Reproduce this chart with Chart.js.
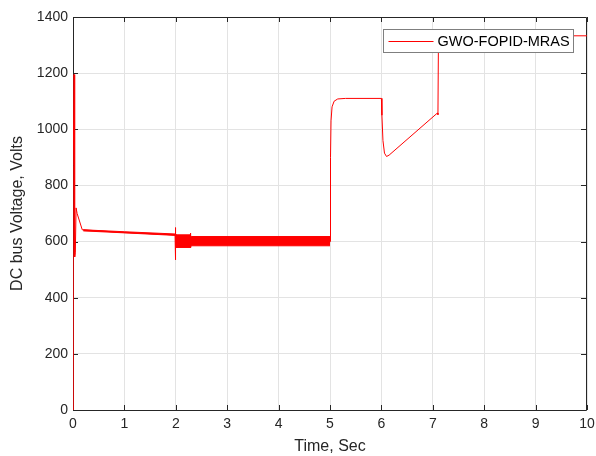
<!DOCTYPE html>
<html>
<head>
<meta charset="utf-8">
<script src="https://cdn.jsdelivr.net/npm/chart.js@4/dist/chart.umd.min.js"></script>
<style>
  html, body { margin: 0; padding: 0; background: #fff; }
  #wrap { width: 596px; height: 456px; }
</style>
</head>
<body>
<div id="wrap"><canvas id="dcChart" width="596" height="456"></canvas></div>
<script>
// main trace
var timeSec = [0, 0.005, 0.02, 0.03, 0.035, 0.045, 0.06, 0.08, 0.18, 0.5, 1.0, 1.5, 1.97, 1.985, 1.99, 1.995, 2.0,
  2.28, 2.285, 2.29, 2.3, 5.0, 5.01, 5.02, 5.04, 5.08, 5.15, 5.3, 6.0, 6.01, 6.03, 6.06, 6.1, 6.15,
  7.09, 7.1, 7.11, 7.3, 10];
var voltage = [0, 870, 1195, 1100, 545, 560, 720, 700, 642, 638, 632, 628, 624, 625, 650, 535, 600,
  600, 630, 578, 600, 600, 900, 1030, 1080, 1100, 1108, 1110, 1110, 1050, 960, 915, 903, 908,
  1058, 1052, 1330, 1333, 1333];

// envelope of the ripple (thick part of the trace)
var bandTime = [0.2, 1.0, 1.995, 2.0, 2.28, 2.3, 5.0];
var bandUpper = [642, 635, 627, 624, 624, 618, 618];
var bandLower = [638, 631, 622, 579, 579, 585, 585];

var xTicks = [0, 1, 2, 3, 4, 5, 6, 7, 8, 9, 10];
var yTicks = [0, 200, 400, 600, 800, 1000, 1200, 1400];

var seriesName = 'GWO-FOPID-MRAS';
var axisColor = '#262626';

function pts(xs, ys) {
  return xs.map(function (x, i) { return { x: x, y: ys[i] }; });
}

// box and inward ticks the MATLAB way, then the legend box on top
var matlabFrame = {
  id: 'matlabFrame',
  beforeDatasetsDraw: function (chart) {
    var ctx = chart.ctx, a = chart.chartArea;
    var xs = chart.scales.x, ys = chart.scales.y;
    ctx.save();
    ctx.strokeStyle = axisColor;
    ctx.lineWidth = 1;
    ctx.beginPath();
    ctx.rect(Math.round(a.left) + 0.5, Math.round(a.top) + 0.5,
      Math.round(a.right - a.left) - 1, Math.round(a.bottom - a.top));
    ctx.stroke();
    ctx.beginPath();
    xTicks.forEach(function (v) {
      var px = Math.round(xs.getPixelForValue(v)) + 0.5;
      ctx.moveTo(px, a.bottom); ctx.lineTo(px, a.bottom - 5);
      ctx.moveTo(px, a.top); ctx.lineTo(px, a.top + 5);
    });
    yTicks.forEach(function (v) {
      var py = Math.round(ys.getPixelForValue(v)) + 0.5;
      ctx.moveTo(a.left, py); ctx.lineTo(a.left + 5, py);
      ctx.moveTo(a.right - 1, py); ctx.lineTo(a.right - 6, py);
    });
    ctx.stroke();
    ctx.restore();
  },
  afterDraw: function (chart) {
    var ctx = chart.ctx;
    ctx.save();
    var lx = 383.5, ly = 29.5, lw = 190, lh = 23;
    ctx.fillStyle = '#fff';
    ctx.fillRect(lx, ly, lw, lh);
    ctx.strokeStyle = '#7f7f7f';
    ctx.lineWidth = 1;
    ctx.strokeRect(lx, ly, lw, lh);
    ctx.strokeStyle = 'red';
    ctx.beginPath();
    ctx.moveTo(lx + 5, ly + 12); ctx.lineTo(lx + 50, ly + 12);
    ctx.stroke();
    ctx.fillStyle = '#000';
    ctx.font = '14.5px "Liberation Sans", Arial, sans-serif';
    ctx.textBaseline = 'middle';
    ctx.fillText(seriesName, lx + 54, ly + 12.5);
    ctx.restore();
  }
};

new Chart(document.getElementById('dcChart').getContext('2d'), {
  type: 'line',
  data: {
    datasets: [{
      label: 'upper',
      data: pts(bandTime, bandUpper),
      borderColor: 'red',
      borderWidth: 1,
      pointRadius: 0,
      fill: false
    }, {
      label: 'lower',
      data: pts(bandTime, bandLower),
      borderColor: 'red',
      backgroundColor: 'red',
      borderWidth: 1,
      pointRadius: 0,
      fill: '-1'
    }, {
      label: seriesName,
      data: pts(timeSec, voltage),
      borderColor: 'red',
      borderWidth: 1,
      pointRadius: 0,
      tension: 0,
      fill: false
    }]
  },
  options: {
    responsive: false,
    animation: false,
    layout: { padding: { top: 17, right: 0, left: 0, bottom: 0 } },
    plugins: {
      legend: { display: false },
      tooltip: { enabled: false },
      filler: { propagate: false }
    },
    scales: {
      x: {
        type: 'linear',
        min: 0, max: 10,
        afterBuildTicks: function (s) { s.ticks = xTicks.map(function (v) { return { value: v }; }); },
        afterFit: function (s) { s.height = 46; s.paddingRight = 9; },
        grid: { color: '#e3e3e3', drawTicks: false },
        border: { display: false },
        ticks: { color: axisColor, padding: 6, maxRotation: 0, font: { family: 'Liberation Sans', size: 14 } },
        title: { display: true, text: 'Time, Sec', color: axisColor, padding: { top: 3, bottom: 0 },
          font: { family: 'Liberation Sans', size: 16 } }
      },
      y: {
        min: 0, max: 1400,
        afterBuildTicks: function (s) { s.ticks = yTicks.map(function (v) { return { value: v }; }); },
        afterFit: function (s) { s.width = 73; },
        grid: { color: '#e3e3e3', drawTicks: false },
        border: { display: false },
        ticks: { color: axisColor, padding: 5, font: { family: 'Liberation Sans', size: 14 },
          callback: function (v) { return String(v); } },
        title: { display: true, text: 'DC bus Voltage, Volts', color: axisColor, padding: { top: 8, bottom: 0 },
          font: { family: 'Liberation Sans', size: 16 } }
      }
    }
  },
  plugins: [matlabFrame]
});
</script>
</body>
</html>
